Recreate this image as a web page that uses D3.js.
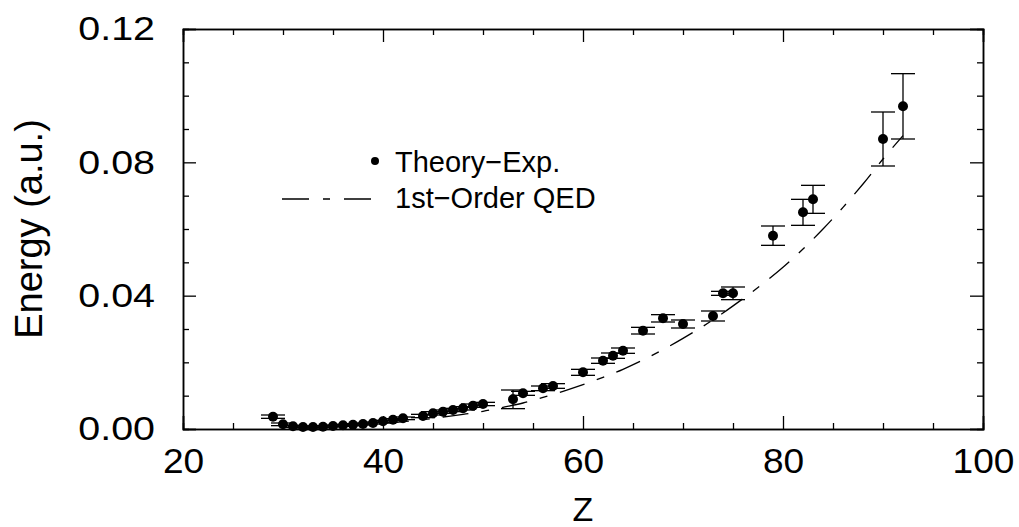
<!DOCTYPE html>
<html><head><meta charset="utf-8">
<script src="https://cdn.jsdelivr.net/npm/d3@7"></script>
<style>body{margin:0;background:#fff} svg{display:block}</style></head>
<body>
<svg id="c" width="1019" height="527"></svg>
<script>
// Theory - Experiment data
const zValues = [29,30,31,32,33,34,35,36,37,38,39,40,41,42,44,45,46,47,48,49,50,53,54,56,57,60,62,63,64,66,68,70,73,74,75,79,82,83,90,92];
const energyValues = [0.0037,0.0014,0.0008,0.0006,0.0006,0.0007,0.0009,0.0011,0.0013,0.0015,0.0018,0.0023,0.0028,0.0032,0.0039,0.0047,0.0052,0.0057,0.0062,0.0070,0.0075,0.0089,0.0107,0.0122,0.0129,0.0170,0.0205,0.0220,0.0235,0.0295,0.0332,0.0315,0.0339,0.0407,0.0407,0.0580,0.0650,0.0689,0.0870,0.0968];
const errorValues = [0.0005,0.0004,0.0003,0.0003,0.0003,0.0003,0.0003,0.0003,0.0003,0.0003,0.0003,0.0003,0.0003,0.0004,0.0005,0.0005,0.0005,0.0005,0.0005,0.0005,0.0005,0.0028,0.0006,0.0007,0.0007,0.0009,0.0008,0.0008,0.0008,0.0010,0.0011,0.0012,0.0015,0.0006,0.0019,0.0029,0.0039,0.0042,0.0081,0.0098];
// 1st-order QED curve
const qedZ = [40,42,44,46,48,50,52,54,56,58,60,62,64,66,68,70,72,74,76,78,80,82,84,86,88,90,92];
const qedE = [0.0016,0.0022,0.0028,0.0036,0.0044,0.0053,0.0065,0.0078,0.0095,0.0113,0.0133,0.0155,0.0179,0.0207,0.0238,0.0272,0.0308,0.0348,0.0391,0.0436,0.0485,0.0540,0.0600,0.0665,0.0735,0.0810,0.0880];
const xMajorTicks = [20,40,60,80,100];
const xMinorTicks = [25,30,35,45,50,55,65,70,75,85,90,95];
const yMajorTicks = [0,0.04,0.08,0.12];
const yMinorTicks = [0.01,0.02,0.03,0.05,0.06,0.07,0.09,0.10,0.11];
const legendLabels = ["Theory\u2212Exp.", "1st\u2212Order QED"];

const svg = d3.select("#c");
const L = 183, R = 983, T = 29, B = 429;
const x = d3.scaleLinear().domain([20,100]).range([L,R]);
const y = d3.scaleLinear().domain([0,0.12]).range([B,T]);
const FONT = "Liberation Sans, Arial, Helvetica, sans-serif";
const dash = "26,13,8,13";

function styleAxis(g){
  g.select(".domain").attr("stroke","#000").attr("stroke-width",1.5);
  g.selectAll(".tick line").attr("stroke","#000").attr("stroke-width",1.3);
}
// major/minor axes on all four sides, ticks inward
const axB = svg.append("g").attr("transform",`translate(0,${B})`)
  .call(d3.axisBottom(x).tickValues(xMajorTicks).tickSize(-13).tickPadding(19).tickFormat(d3.format("d")));
const axBm = svg.append("g").attr("transform",`translate(0,${B})`)
  .call(d3.axisBottom(x).tickValues(xMinorTicks).tickSize(-6).tickFormat(""));
const axT = svg.append("g").attr("transform",`translate(0,${T})`)
  .call(d3.axisTop(x).tickValues(xMajorTicks).tickSize(-13).tickFormat(""));
const axTm = svg.append("g").attr("transform",`translate(0,${T})`)
  .call(d3.axisTop(x).tickValues(xMinorTicks).tickSize(-6).tickFormat(""));
const axL = svg.append("g").attr("transform",`translate(${L},0)`)
  .call(d3.axisLeft(y).tickValues(yMajorTicks).tickSize(-13).tickPadding(28).tickFormat(d3.format(".2f")));
const axLm = svg.append("g").attr("transform",`translate(${L},0)`)
  .call(d3.axisLeft(y).tickValues(yMinorTicks).tickSize(-6).tickFormat(""));
const axR = svg.append("g").attr("transform",`translate(${R},0)`)
  .call(d3.axisRight(y).tickValues(yMajorTicks).tickSize(-13).tickFormat(""));
const axRm = svg.append("g").attr("transform",`translate(${R},0)`)
  .call(d3.axisRight(y).tickValues(yMinorTicks).tickSize(-6).tickFormat(""));
[axB,axBm,axT,axTm,axL,axLm,axR,axRm].forEach(styleAxis);

axB.selectAll(".tick text").attr("font-family",FONT).attr("font-size",35).attr("fill","#000")
  .each(function(){ const t=d3.select(this); const yy=+t.attr("y"); t.attr("y",0).attr("transform",`translate(0,${yy}) scale(1.06,1)`); });
axL.selectAll(".tick text").attr("font-family",FONT).attr("font-size",34).attr("fill","#000")
  .each(function(){ const t=d3.select(this); const xx=+t.attr("x"); t.attr("x",0).attr("transform",`translate(${xx},0) scale(1.16,1)`); });

// axis titles
svg.append("text").attr("x",(L+R)/2).attr("y",521).attr("text-anchor","middle")
  .attr("font-family",FONT).attr("font-size",34).text("Z");
svg.append("text").attr("transform",`translate(42,${(T+B)/2}) rotate(-90)`).attr("text-anchor","middle")
  .attr("font-family",FONT).attr("font-size",38).text("Energy (a.u.)");

// QED curve
const qed = qedZ.map((z,i)=>({z,e:qedE[i]}));
svg.append("path").datum(qed)
  .attr("d", d3.line().x(d=>x(d.z)).y(d=>y(d.e)).curve(d3.curveCatmullRom))
  .attr("fill","none").attr("stroke","#000").attr("stroke-width",1.3).attr("stroke-dasharray",dash);

// data with error bars
const pts = zValues.map((z,i)=>({z,e:energyValues[i],err:errorValues[i]}));
const eb = svg.append("g").attr("stroke","#000").attr("stroke-width",1.3);
pts.forEach(d=>{
  eb.append("line").attr("x1",x(d.z)).attr("x2",x(d.z)).attr("y1",y(d.e-d.err)).attr("y2",y(d.e+d.err));
  eb.append("line").attr("x1",x(d.z)-12).attr("x2",x(d.z)+12).attr("y1",y(d.e-d.err)).attr("y2",y(d.e-d.err));
  eb.append("line").attr("x1",x(d.z)-12).attr("x2",x(d.z)+12).attr("y1",y(d.e+d.err)).attr("y2",y(d.e+d.err));
});
svg.append("g").selectAll("circle").data(pts).join("circle")
  .attr("cx",d=>x(d.z)).attr("cy",d=>y(d.e)).attr("r",5).attr("fill","#000");

// legend
const lg = svg.append("g").attr("font-family",FONT).attr("font-size",29);
lg.append("circle").attr("cx",375).attr("cy",161).attr("r",4).attr("fill","#000");
lg.append("text").attr("x",395).attr("y",172).text(legendLabels[0]);
lg.append("line").attr("x1",282).attr("x2",372).attr("y1",199).attr("y2",199)
  .attr("stroke","#000").attr("stroke-width",1.3).attr("stroke-dasharray","27,14,7,14");
lg.append("text").attr("x",395).attr("y",208).text(legendLabels[1]);
</script>
</body></html>
